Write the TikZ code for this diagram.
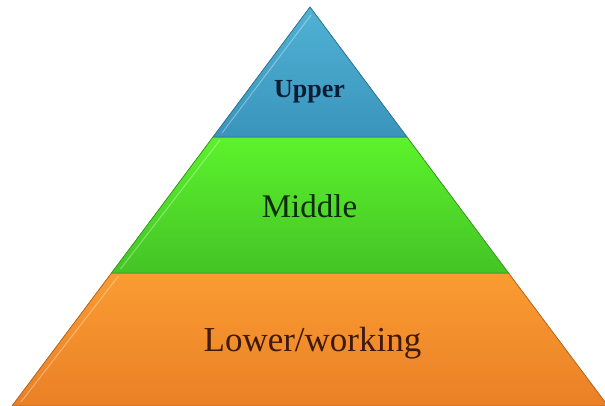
\documentclass[tikz,border=0pt]{standalone}
\usepackage{fontspec}
\setmainfont{Liberation Serif}
\usetikzlibrary{calc}
\definecolor{upperTop}{RGB}{80,178,212}
\definecolor{upperBot}{RGB}{58,148,188}
\definecolor{middleTop}{RGB}{92,242,44}
\definecolor{middleBot}{RGB}{68,196,38}
\definecolor{lowerTop}{RGB}{250,156,50}
\definecolor{lowerBot}{RGB}{234,128,38}
\tikzset{
  tier/.style={draw=#1, line width=0.8pt, line join=round},
  tierlabel/.style={anchor=base, inner sep=0pt}
}

\begin{document}
\begin{tikzpicture}[x=1pt, y=1pt]
        \def\apx{310}
        \useasboundingbox (0,0) rectangle (605,406);
        % corners of the pyramid
        \coordinate (apex) at (\apx, 399);
        \coordinate (ul) at (213, 269);
        \coordinate (ur) at (407, 269);
        \coordinate (ml) at (111.5, 133);
        \coordinate (mr) at (508.5, 133);
        \coordinate (bl) at (12, 0);
        \coordinate (br) at (608, 0);
        \filldraw[tier=lowerBot!80!black, top color=lowerTop, bottom color=lowerBot] (ml) -- (mr) -- (br) -- (bl) -- cycle;
        \filldraw[tier=middleBot!80!black, top color=middleTop, bottom color=middleBot] (ul) -- (ur) -- (mr) -- (ml) -- cycle;
        \filldraw[tier=upperBot!80!black, top color=upperTop, bottom color=upperBot] (apex) -- (ur) -- (ul) -- cycle;
        % light edges
        \draw[white, opacity=0.35, line width=1pt] ($(ml)+(7,-3)$) -- ($(bl)+(9,4)$);
        \draw[white, opacity=0.35, line width=1pt] ($(ul)+(7,-3)$) -- ($(ml)+(9,4)$);
        \draw[white, opacity=0.35, line width=1pt] ($(apex)+(1,-8)$) -- ($(ul)+(9,4)$);
        \node[tierlabel, text={rgb,255:red,12;green,28;blue,52}, font=\bfseries\fontsize{26}{30}\selectfont] (upper) at (309.5, 308) {Upper};
        \node[tierlabel, text={rgb,255:red,12;green,42;blue,12}, font=\fontsize{33}{38}\selectfont] (middle) at (309.5, 188) {Middle};
        \node[tierlabel, text={rgb,255:red,62;green,26;blue,10}, font=\fontsize{35}{40}\selectfont] (lower) at (312.5, 54) {Lower/working};
    \end{tikzpicture}
\end{document}
